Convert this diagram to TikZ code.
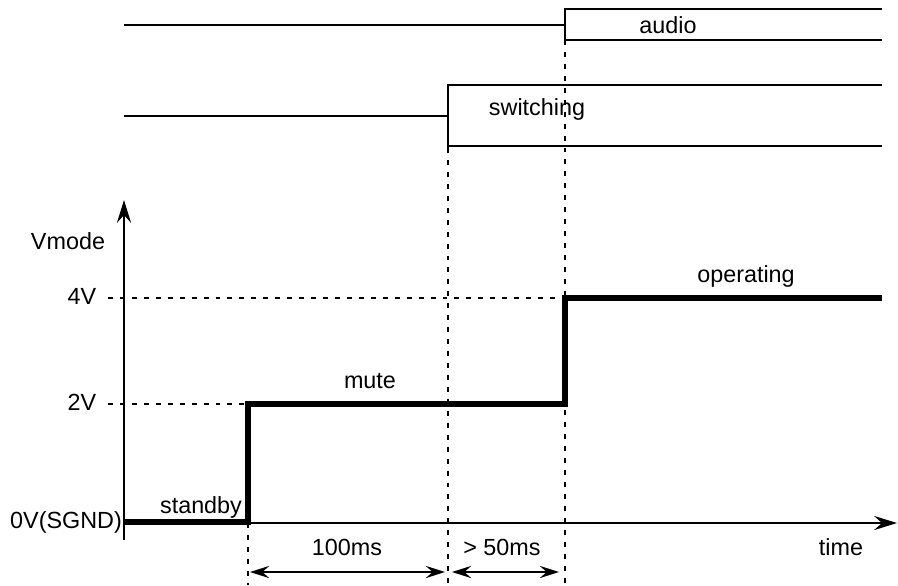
\documentclass[tikz,border=0pt]{standalone}
\usepackage{fontspec}
\setmainfont{Liberation Sans}
\usetikzlibrary{arrows.meta}

\tikzset{
  lbl/.style={anchor=base, inner sep=0pt, font=\fontsize{13.3}{16}\selectfont},
  sig/.style={line width=0.75pt},
  axis/.style={line width=1.6pt, -{Stealth[length=13pt,width=8pt,inset=4.5pt]}},
  level/.style={line width=3.4pt, line join=miter},
  guide/.style={line width=0.75pt, dash pattern=on 2.8pt off 4pt},
  span/.style={line width=0.9pt, {Stealth[length=11pt,width=7pt,inset=4pt]}-{Stealth[length=11pt,width=7pt,inset=4pt]}}
}

\begin{document}
\begin{tikzpicture}[x=0.02cm, y=-0.02cm]
    \useasboundingbox (0,0) rectangle (898,585);
    % audio signal
    \draw[sig] (124,25) -- (565,25);
    \draw[sig] (565,8) -- (565,40);
    \draw[sig] (565,9) -- (882,9);
    \draw[sig] (565,40) -- (882,40);
    \node[lbl] (audio) at (668,33) {audio};

    % switching signal
    \draw[sig] (124,116) -- (448,116);
    \draw[sig] (448,84) -- (448,148);
    \draw[sig] (448,85) -- (882,85);
    \draw[sig] (448,146) -- (882,146);
    \node[lbl] (switching) at (537,115) {switching};

    % axes
    \draw[axis] (124,540) -- (124,200);
    \draw[axis] (124,523) -- (897,523);
    \node[lbl] (vmode) at (68,249) {Vmode};
    \node[lbl] (time) at (841,555) {time};

    % levels
    \draw[guide] (108,298) -- (565,298);
    \draw[guide] (108,404) -- (248,404);
    \node[lbl] (v4) at (82,304) {4V};
    \node[lbl] (v2) at (82,410) {2V};
    \node[lbl] (v0) at (66,528) {0V(SGND)};

    % vertical guides
    \draw[guide] (248,404) -- (248,585);
    \draw[guide] (448,148) -- (448,585);
    \draw[guide] (565,40) -- (565,585);

    % mode voltage
    \draw[level] (124,522) -- (248,522) -- (248,404) -- (565,404) -- (565,298) -- (882,298);
    \node[lbl] (standby) at (201,513) {standby};
    \node[lbl] (mute) at (370,388) {mute};
    \node[lbl] (operating) at (746,282) {operating};

    % timings
    \coordinate (a1) at (250,572);
    \coordinate (a2) at (445,572);
    \coordinate (b1) at (452,572);
    \coordinate (b2) at (559,572);
    \draw[span] (a1) -- (a2);
    \draw[span] (b1) -- (b2);
    \node[lbl] (t100) at (347,555) {100ms};
    \node[lbl] (t50) at (502,555) {> 50ms};
\end{tikzpicture}
\end{document}
